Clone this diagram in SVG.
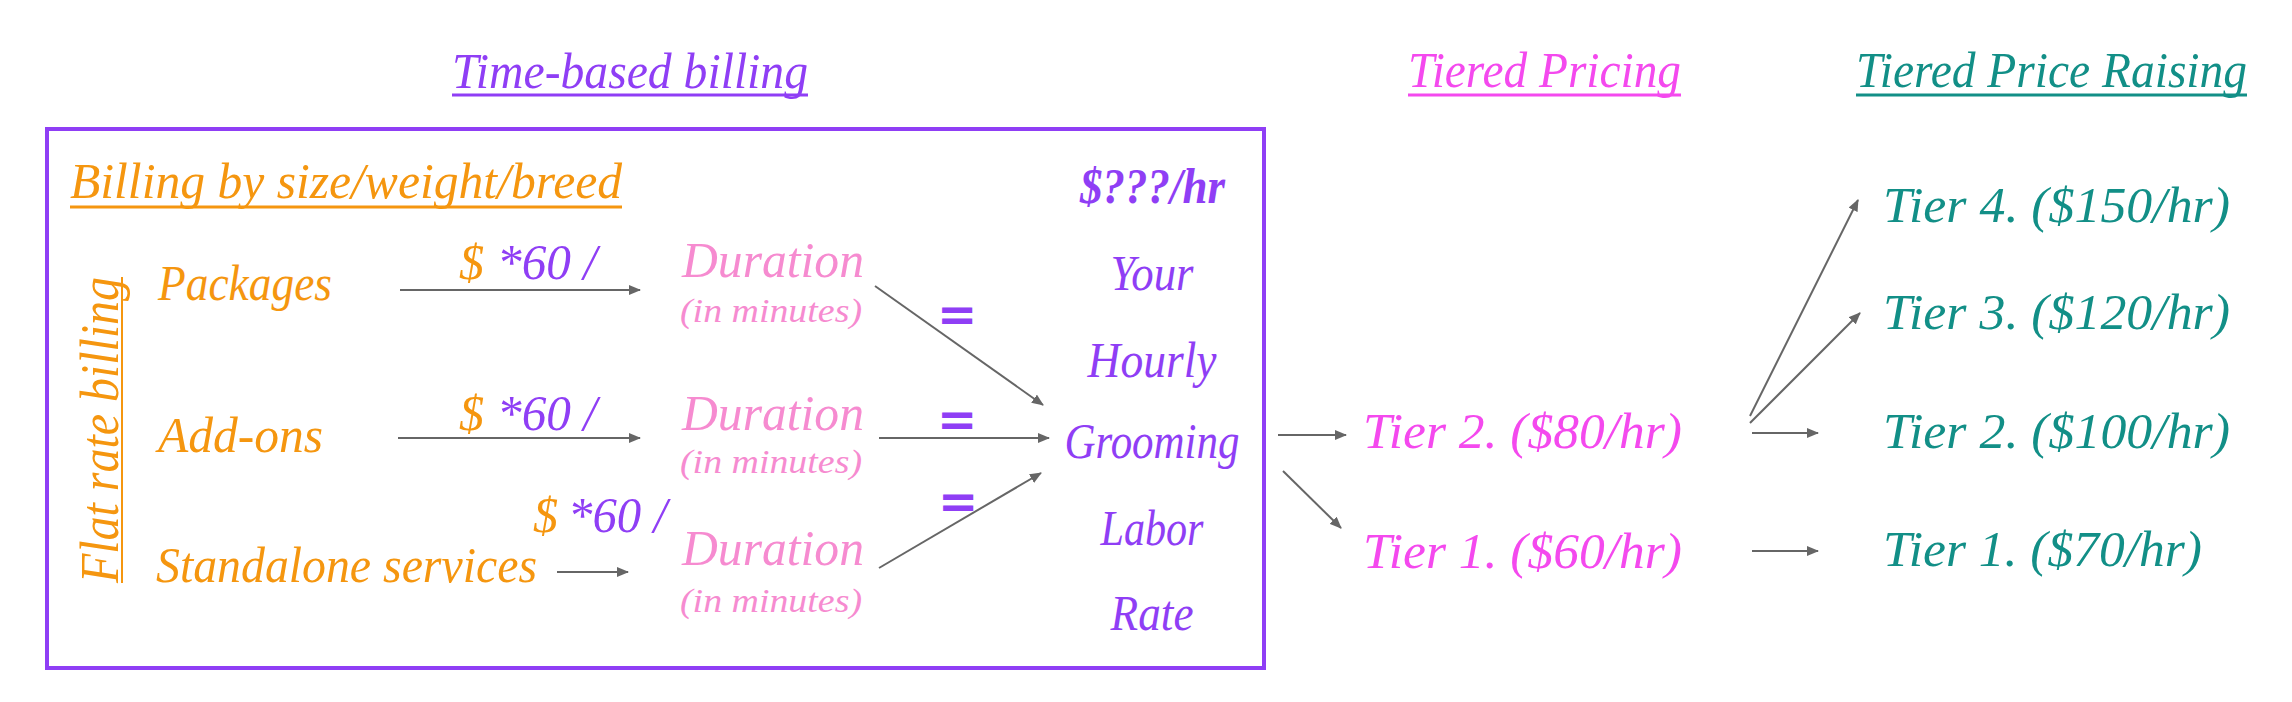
<svg xmlns="http://www.w3.org/2000/svg" width="2292" height="702" viewBox="0 0 2292 702">
<style>
text{font-family:"Liberation Serif","DejaVu Serif",serif;font-style:italic;font-size:50px}
.pu{fill:#8f3ef5}.or{fill:#f5960f}.pk{fill:#f68bd0}.mg{fill:#f449ee}.tl{fill:#128f87}
.sm{font-size:34px}.b{font-weight:bold}
.eq{font-family:"DejaVu Sans",sans-serif;font-style:normal;font-weight:bold;font-size:48px;text-anchor:middle}
.ctr{text-anchor:middle}
.con line{stroke:#666;stroke-width:2;marker-end:url(#ah)}
</style>
<defs>
<marker id="ah" markerUnits="userSpaceOnUse" markerWidth="12" markerHeight="10" refX="11" refY="5" orient="auto">
<path d="M0,0 L12,5 L0,10 z" fill="#666"/>
</marker>
</defs>
<rect width="2292" height="702" fill="#fff"/>
<g id="titles">
<text class="pu" x="452" y="88" textLength="356" lengthAdjust="spacingAndGlyphs">Time-based billing</text>
<line x1="452" y1="95" x2="808" y2="95" stroke="#8f3ef5" stroke-width="3"/>
<text class="mg" x="1408" y="87" textLength="273" lengthAdjust="spacingAndGlyphs">Tiered Pricing</text>
<line x1="1408" y1="95" x2="1681" y2="95" stroke="#f449ee" stroke-width="3"/>
<text class="tl" x="1856" y="87" textLength="391" lengthAdjust="spacingAndGlyphs">Tiered Price Raising</text>
<line x1="1856" y1="95" x2="2247" y2="95" stroke="#128f87" stroke-width="3"/>
</g>
<g id="box">
<rect x="47" y="129" width="1217" height="539" fill="none" stroke="#8f3ef5" stroke-width="4"/>
</g>
<g id="billing-by-size">
<text class="or" x="70" y="198" textLength="552" lengthAdjust="spacingAndGlyphs">Billing by size/weight/breed</text>
<line x1="70" y1="207" x2="622" y2="207" stroke="#f5960f" stroke-width="3"/>
</g>
<g id="flat-rate">
<text class="or" style="font-size:54px" transform="translate(118,583) rotate(-90)" x="0" y="0" textLength="306" lengthAdjust="spacingAndGlyphs">Flat rate billing</text>
<line x1="122" y1="277" x2="122" y2="583" stroke="#f5960f" stroke-width="2"/>
</g>
<g id="packages"><text class="or" x="158" y="300" textLength="174" lengthAdjust="spacingAndGlyphs">Packages</text></g>
<g id="addons"><text class="or" x="158" y="452" textLength="165" lengthAdjust="spacingAndGlyphs">Add-ons</text></g>
<g id="standalone"><text class="or" x="156" y="582" textLength="381" lengthAdjust="spacingAndGlyphs">Standalone services</text></g>
<g id="rate-labels">
<text class="or" x="459" y="279">$</text><text class="pu" x="497" y="279" textLength="100" lengthAdjust="spacingAndGlyphs">*60 /</text>
<text class="or" x="459" y="430">$</text><text class="pu" x="497" y="430" textLength="100" lengthAdjust="spacingAndGlyphs">*60 /</text>
<text class="or" x="533" y="532">$</text><text class="pu" x="568" y="532" textLength="99" lengthAdjust="spacingAndGlyphs">*60 /</text>
</g>
<g id="duration1">
<text class="pk" x="682" y="277" textLength="182" lengthAdjust="spacingAndGlyphs">Duration</text>
<text class="pk sm" x="680" y="322" textLength="182" lengthAdjust="spacingAndGlyphs">(in minutes)</text>
</g>
<g id="duration2">
<text class="pk" x="682" y="430" textLength="182" lengthAdjust="spacingAndGlyphs">Duration</text>
<text class="pk sm" x="680" y="473" textLength="182" lengthAdjust="spacingAndGlyphs">(in minutes)</text>
</g>
<g id="duration3">
<text class="pk" x="682" y="565" textLength="182" lengthAdjust="spacingAndGlyphs">Duration</text>
<text class="pk sm" x="680" y="612" textLength="182" lengthAdjust="spacingAndGlyphs">(in minutes)</text>
</g>
<g id="equals">
<text class="pu eq" x="957" y="331">=</text>
<text class="pu eq" x="957" y="436">=</text>
<text class="pu eq" x="958" y="518">=</text>
</g>
<g id="hourly-rate">
<text class="pu b" x="1080" y="203" textLength="145" lengthAdjust="spacingAndGlyphs">$???/hr</text>
<text class="pu ctr" x="1152" y="290" textLength="83" lengthAdjust="spacingAndGlyphs">Your</text>
<text class="pu ctr" x="1152" y="377" textLength="129" lengthAdjust="spacingAndGlyphs">Hourly</text>
<text class="pu ctr" x="1152" y="458" textLength="175" lengthAdjust="spacingAndGlyphs">Grooming</text>
<text class="pu ctr" x="1152" y="545" textLength="103" lengthAdjust="spacingAndGlyphs">Labor</text>
<text class="pu ctr" x="1152" y="630" textLength="83" lengthAdjust="spacingAndGlyphs">Rate</text>
</g>
<g id="tier2-pricing"><text class="mg" x="1363" y="448" textLength="319" lengthAdjust="spacingAndGlyphs">Tier 2. ($80/hr)</text></g>
<g id="tier1-pricing"><text class="mg" x="1363" y="568" textLength="319" lengthAdjust="spacingAndGlyphs">Tier 1. ($60/hr)</text></g>
<g id="tier4-raise"><text class="tl" x="1883" y="222" textLength="347" lengthAdjust="spacingAndGlyphs">Tier 4. ($150/hr)</text></g>
<g id="tier3-raise"><text class="tl" x="1883" y="329" textLength="347" lengthAdjust="spacingAndGlyphs">Tier 3. ($120/hr)</text></g>
<g id="tier2-raise"><text class="tl" x="1883" y="448" textLength="347" lengthAdjust="spacingAndGlyphs">Tier 2. ($100/hr)</text></g>
<g id="tier1-raise"><text class="tl" x="1883" y="566" textLength="319" lengthAdjust="spacingAndGlyphs">Tier 1. ($70/hr)</text></g>
<g id="connectors" class="con">
<line x1="400" y1="290" x2="640" y2="290"/>
<line x1="398" y1="438" x2="640" y2="438"/>
<line x1="557" y1="572" x2="628" y2="572"/>
<line x1="875" y1="286" x2="1043" y2="405"/>
<line x1="879" y1="438" x2="1049" y2="438"/>
<line x1="879" y1="568" x2="1041" y2="473"/>
<line x1="1278" y1="435" x2="1346" y2="435"/>
<line x1="1283" y1="471" x2="1341" y2="528"/>
<line x1="1750" y1="416" x2="1858" y2="200"/>
<line x1="1750" y1="423" x2="1860" y2="313"/>
<line x1="1752" y1="433" x2="1818" y2="433"/>
<line x1="1752" y1="551" x2="1818" y2="551"/>
</g>
</svg>
